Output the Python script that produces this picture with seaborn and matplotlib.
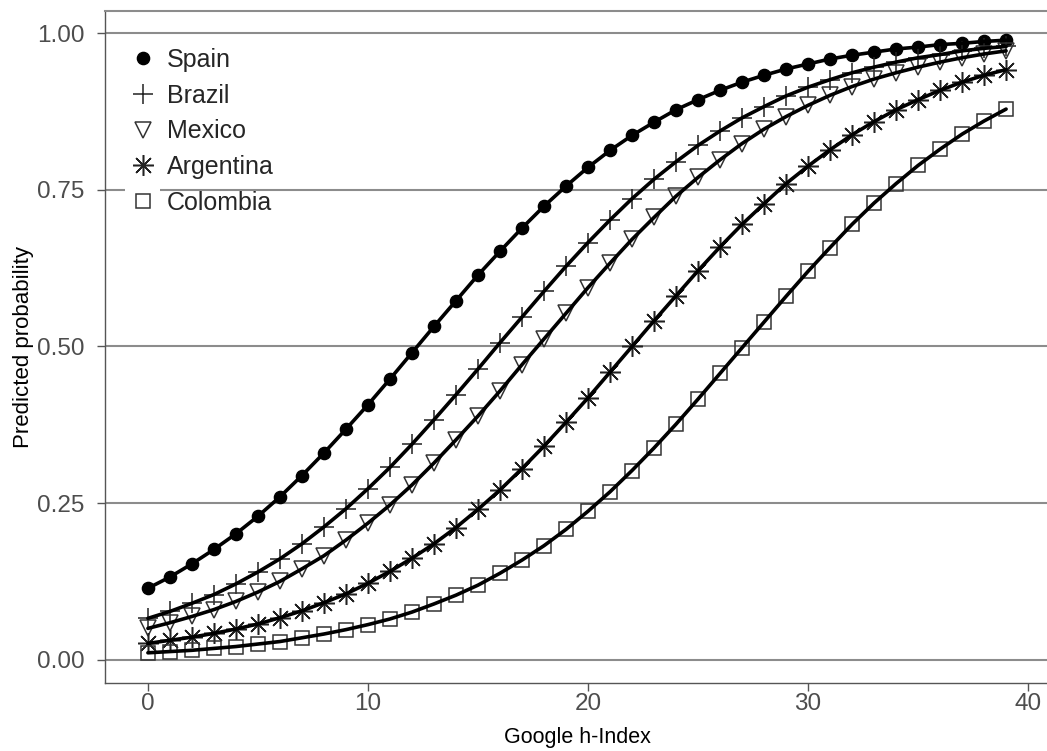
import pandas as pd
import seaborn as sns
import matplotlib.pyplot as plt
from matplotlib.patches import Rectangle

h_index = list(range(40))

spain = [0.114, 0.132, 0.153, 0.176, 0.201, 0.229, 0.260, 0.294, 0.330, 0.368,
         0.407, 0.448, 0.490, 0.532, 0.573, 0.614, 0.652, 0.689, 0.724, 0.756,
         0.786, 0.813, 0.837, 0.858, 0.878, 0.894, 0.909, 0.922, 0.933, 0.943,
         0.951, 0.959, 0.965, 0.970, 0.975, 0.978, 0.982, 0.984, 0.987, 0.989]
brazil = [0.066, 0.077, 0.090, 0.104, 0.121, 0.140, 0.161, 0.185, 0.212, 0.241,
          0.273, 0.307, 0.344, 0.383, 0.423, 0.464, 0.506, 0.547, 0.588, 0.628,
          0.666, 0.702, 0.736, 0.767, 0.795, 0.821, 0.844, 0.865, 0.883, 0.900,
          0.914, 0.926, 0.937, 0.946, 0.954, 0.961, 0.966, 0.972, 0.976, 0.979]
mexico = [0.050, 0.059, 0.069, 0.080, 0.093, 0.108, 0.125, 0.145, 0.166, 0.191,
          0.218, 0.247, 0.279, 0.314, 0.351, 0.389, 0.429, 0.471, 0.512, 0.553,
          0.594, 0.633, 0.671, 0.706, 0.740, 0.770, 0.798, 0.824, 0.847, 0.867,
          0.885, 0.901, 0.915, 0.927, 0.937, 0.946, 0.954, 0.961, 0.967, 0.972]
argentina = [0.026, 0.031, 0.036, 0.042, 0.049, 0.057, 0.067, 0.078, 0.091, 0.105,
             0.122, 0.141, 0.162, 0.185, 0.211, 0.240, 0.271, 0.305, 0.341, 0.379,
             0.418, 0.459, 0.500, 0.541, 0.581, 0.621, 0.659, 0.695, 0.728, 0.760,
             0.788, 0.814, 0.838, 0.859, 0.878, 0.894, 0.909, 0.922, 0.933, 0.942]
colombia = [0.011, 0.013, 0.015, 0.018, 0.021, 0.025, 0.029, 0.035, 0.041, 0.048,
            0.056, 0.065, 0.076, 0.089, 0.103, 0.119, 0.138, 0.159, 0.182, 0.208,
            0.237, 0.268, 0.302, 0.338, 0.376, 0.416, 0.457, 0.498, 0.539, 0.580,
            0.620, 0.658, 0.695, 0.729, 0.760, 0.789, 0.815, 0.839, 0.860, 0.879]

countries = ['Spain', 'Brazil', 'Mexico', 'Argentina', 'Colombia']
series = [spain, brazil, mexico, argentina, colombia]

df = pd.concat([pd.DataFrame({'h': h_index, 'p': vals, 'country': name})
                for name, vals in zip(countries, series)], ignore_index=True)

# marker look per country (R pch 16, 3, 6, 8, 0)
marker_style = {
    'Spain': dict(marker='o', ms=8.8, mfc='black', mec='black', mew=1.0),
    'Brazil': dict(marker='+', ms=15, mfc='none', mec='#222222', mew=1.1),
    'Mexico': dict(marker='v', ms=11, mfc='none', mec='#333333', mew=1.1),
    'Argentina': dict(marker=(8, 2, 0), ms=15, mfc='none', mec='#222222', mew=1.1),
    'Colombia': dict(marker='s', ms=10, mfc='none', mec='#333333', mew=1.1),
}

sns.set_style('white')
plt.rcParams['font.family'] = ['Liberation Sans', 'DejaVu Sans']

fig = plt.figure(figsize=(10.47, 7.51), dpi=100)
ax = fig.add_axes([105 / 1047, (751 - 683) / 751, (1049 - 105) / 1047, (683 - 11) / 751])

for name in countries:
    sub = df[df['country'] == name]
    ax.plot(sub['h'], sub['p'], ls='none', label=name, zorder=3, **marker_style[name])

sns.lineplot(data=df, x='h', y='p', units='country', estimator=None,
             color='black', lw=2.6, legend=False, ax=ax, zorder=4)

ax.set_xlim(-1.95, 40.95)
ax.set_ylim(-0.0372, 1.0356)
ax.set_xticks([0, 10, 20, 30, 40])
ax.set_yticks([0, 0.25, 0.5, 0.75, 1.0])
ax.set_yticklabels(['0.00', '0.25', '0.50', '0.75', '1.00'])

ax.yaxis.grid(True, color='#8c8c8c', lw=1.5, zorder=0)
ax.xaxis.grid(False)
ax.set_axisbelow(True)

for side in ['left', 'bottom']:
    ax.spines[side].set_color('#555555')
    ax.spines[side].set_linewidth(1.0)
ax.spines['top'].set_color('#8c8c8c')
ax.spines['top'].set_linewidth(1.5)
ax.spines['right'].set_visible(False)

ax.tick_params(axis='both', direction='out', length=6, width=1.0, color='#555555',
               labelcolor='#4d4d4d', labelsize=17.5)
ax.tick_params(axis='y', pad=9, left=True)
ax.tick_params(axis='x', pad=1, bottom=True)

ax.set_xlabel('Google h-Index', fontsize=15.5, color='black', labelpad=9)
ax.set_ylabel('Predicted probability', fontsize=16, color='black', labelpad=2)

# white legend-key background, as in the original
ax.add_patch(Rectangle((-1.06, 0.70), 1.6, 0.29, facecolor='white',
                       edgecolor='none', zorder=1))

ax.legend(loc='upper left', bbox_to_anchor=(0.0275, 0.945), frameon=False,
          fontsize=18, handlelength=1.0, handletextpad=0.45, labelspacing=0.47,
          borderpad=0, borderaxespad=0)

fig.savefig('out.png', dpi=100)
